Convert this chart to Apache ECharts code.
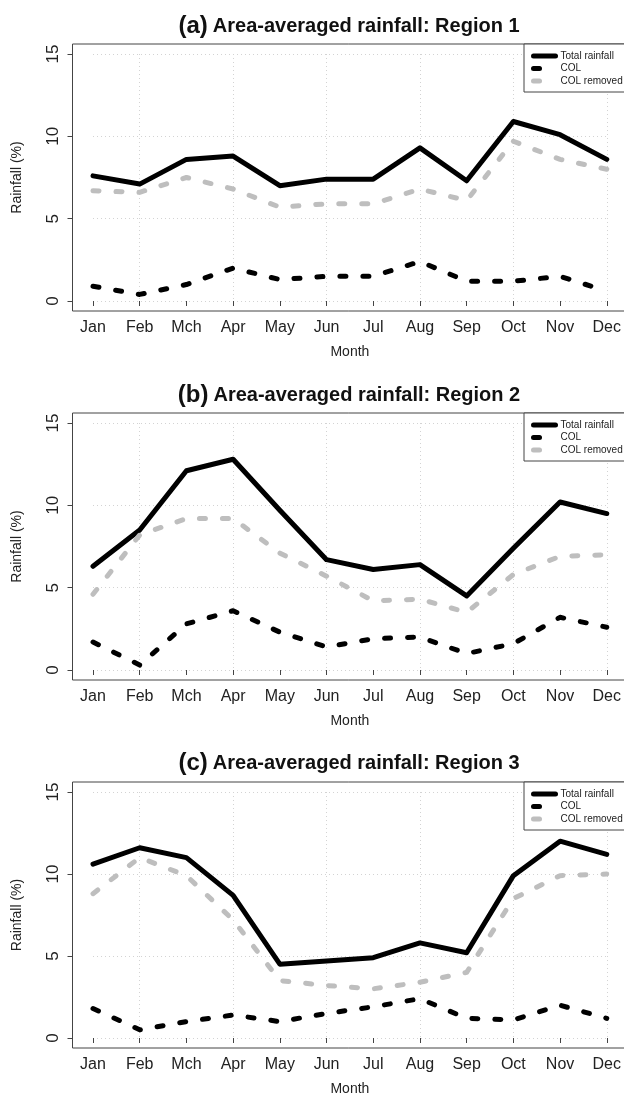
<!DOCTYPE html>
<html>
<head>
<meta charset="utf-8">
<script src="https://cdn.jsdelivr.net/npm/echarts@6/dist/echarts.min.js"></script>
<style>
  html, body { margin: 0; padding: 0; background: #fff; }
  #chart { width: 624px; height: 1098px; }
</style>
</head>
<body>
<div id="chart"></div>
<script>
const months = ['Jan', 'Feb', 'Mch', 'Apr', 'May', 'Jun', 'Jul', 'Aug', 'Sep', 'Oct', 'Nov', 'Dec'];
const seriesNames = ['Total rainfall', 'COL', 'COL removed'];
const panelLetters = ['(a)', '(b)', '(c)'];
const panelTitles = ['Area-averaged rainfall: Region 1', 'Area-averaged rainfall: Region 2', 'Area-averaged rainfall: Region 3'];
const yMin = 0, yMax = 15, yStep = 5;

// region 1
const r1Total = [7.6, 7.1, 8.6, 8.8, 7.0, 7.4, 7.4, 9.3, 7.3, 10.9, 10.1, 8.6];
const r1Col = [0.9, 0.4, 1.0, 2.0, 1.3, 1.5, 1.5, 2.4, 1.2, 1.2, 1.5, 0.6];
const r1Removed = [6.7, 6.6, 7.5, 6.8, 5.7, 5.9, 5.9, 6.8, 6.1, 9.7, 8.6, 8.0];
// region 2
const r2Total = [6.3, 8.5, 12.1, 12.8, 9.7, 6.7, 6.1, 6.4, 4.5, 7.4, 10.2, 9.5];
const r2Col = [1.7, 0.3, 2.8, 3.6, 2.3, 1.4, 1.9, 2.0, 1.0, 1.6, 3.2, 2.6];
const r2Removed = [4.6, 8.2, 9.2, 9.2, 7.1, 5.7, 4.2, 4.3, 3.5, 5.8, 6.9, 7.0];
// region 3
const r3Total = [10.6, 11.6, 11.0, 8.7, 4.5, 4.7, 4.9, 5.8, 5.2, 9.9, 12.0, 11.2];
const r3Col = [1.8, 0.5, 1.0, 1.4, 1.0, 1.5, 1.9, 2.4, 1.2, 1.1, 2.0, 1.2];
const r3Removed = [8.8, 11.0, 9.9, 7.2, 3.5, 3.2, 3.0, 3.4, 4.0, 8.5, 9.9, 10.0];

const regions = [
  [r1Total, r1Col, r1Removed],
  [r2Total, r2Col, r2Removed],
  [r3Total, r3Col, r3Removed]
];

// layout: data grid spans Jan..Dec and 0..15, frame box adds R's 4% padding
const panels = [
  { titleTop: 9, boxTop: 44, gridTop: 54, gridH: 247 },
  { titleTop: 378, boxTop: 413, gridTop: 423, gridH: 247 },
  { titleTop: 746, boxTop: 782, gridTop: 792, gridH: 246 }
];
const gridLeft = 93, gridW = 514, boxLeft = 72.5, boxW = 556;

const font = '"Liberation Sans", Arial, sans-serif';
const lineStyles = [
  { color: '#000', width: 5, type: 'solid', cap: 'round', join: 'round' },
  { color: '#000', width: 5, type: [6, 17], cap: 'round', join: 'round' },
  { color: '#bebebe', width: 5, type: [6, 17], cap: 'round', join: 'round' }
];

const chart = echarts.init(document.getElementById('chart'));

const title = [], grid = [], xAxis = [], yAxis = [], legend = [], series = [], graphic = [];

panels.forEach((p, i) => {
  title.push({
    text: '{a|' + panelLetters[i] + '} {b|' + panelTitles[i] + '}',
    left: 344,
    textAlign: 'center',
    top: p.titleTop,
    textStyle: {
      rich: {
        a: { fontFamily: font, fontSize: 24, color: '#111' },
        b: { fontFamily: font, fontWeight: 'bold', fontSize: 20, color: '#111' }
      }
    }
  });
  grid.push({ left: gridLeft, top: p.gridTop, width: gridW, height: p.gridH });
  graphic.push({
    type: 'rect',
    shape: { x: boxLeft, y: p.boxTop, width: boxW, height: p.gridH + 20 },
    style: { fill: 'none', stroke: '#444', lineWidth: 1 },
    z: 1
  });
  xAxis.push({
    type: 'category',
    gridIndex: i,
    data: months,
    boundaryGap: false,
    offset: 10,
    axisLine: { show: false },
    axisTick: { show: true, length: 5, lineStyle: { color: '#444' } },
    axisLabel: { interval: 0, margin: 9, fontFamily: font, fontSize: 16, color: '#222' },
    splitLine: {
      show: true,
      interval: (idx) => idx % 2 === 1,
      lineStyle: { color: '#d3d3d3', type: [1, 3], width: 1 }
    },
    name: 'Month',
    nameLocation: 'middle',
    nameGap: 34,
    nameTextStyle: { fontFamily: font, fontSize: 14, color: '#222' }
  });
  yAxis.push({
    type: 'value',
    gridIndex: i,
    min: yMin,
    max: yMax,
    interval: yStep,
    offset: 20.5,
    axisLine: { show: false },
    axisTick: { show: true, length: 5, lineStyle: { color: '#444' } },
    axisLabel: { rotate: 90, margin: 11, fontFamily: font, fontSize: 17, color: '#222' },
    splitLine: { show: true, lineStyle: { color: '#d3d3d3', type: [1, 3], width: 1 } },
    name: 'Rainfall (%)',
    nameLocation: 'middle',
    nameRotate: 90,
    nameGap: 48,
    nameTextStyle: { fontFamily: font, fontSize: 14, color: '#222' }
  });
  legend.push({
    data: seriesNames,
    orient: 'vertical',
    left: 524,
    top: p.boxTop,
    padding: [7, 60, 6, 7],
    itemWidth: 22,
    itemHeight: 10,
    itemGap: 2.5,
    itemTextGap: 8,
    itemStyle: { opacity: 0 },
    lineStyle: { width: 5, cap: 'round' },
    backgroundColor: '#fff',
    borderColor: '#444',
    borderWidth: 1,
    borderRadius: 0,
    selectedMode: false,
    textStyle: { fontFamily: font, fontSize: 10, color: '#222', lineHeight: 10 }
  });
  regions[i].forEach((vals, k) => {
    series.push({
      name: seriesNames[k],
      type: 'line',
      xAxisIndex: i,
      yAxisIndex: i,
      data: vals,
      symbol: 'none',
      lineStyle: lineStyles[k],
      itemStyle: { color: lineStyles[k].color },
      z: 2 + k
    });
  });
});

chart.setOption({
  animation: false,
  backgroundColor: '#fff',
  title: title,
  grid: grid,
  xAxis: xAxis,
  yAxis: yAxis,
  legend: legend,
  graphic: graphic,
  series: series
});
</script>
</body>
</html>
